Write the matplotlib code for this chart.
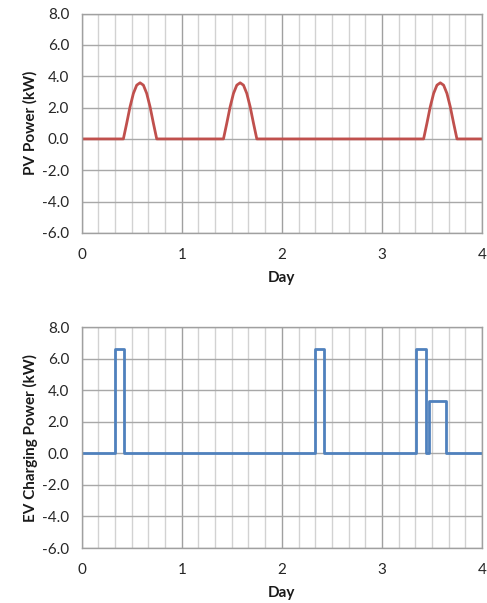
import matplotlib
matplotlib.use("Agg")
import matplotlib.pyplot as plt
import numpy as np
from matplotlib.ticker import MultipleLocator, FormatStrFormatter

plt.rcParams['font.family'] = ['Lato', 'DejaVu Sans']

# PV daily profile (hour of day, kW)
pv_profile_hours = [10, 10.8, 11.6, 12.4, 13.2, 14.0, 14.8, 15.6, 16.4, 17.2, 18.0]
pv_profile_kw = [0.0, 1.0, 2.05, 2.9, 3.43, 3.58, 3.43, 2.9, 2.05, 1.0, 0.0]
pv_sunny_days = [0, 1, 3]

# EV charging step changes (day, kW)
ev_t = [0, 0.333, 0.422, 2.333, 2.422, 3.336, 3.44, 3.475, 3.64, 4.0]
ev_kw = [0, 6.6, 0, 6.6, 0, 6.6, 0, 3.3, 0, 0]

y_ticks = [-6, -4, -2, 0, 2, 4, 6, 8]
x_ticks = [0, 1, 2, 3, 4]

# build PV series
pv_t = [0.0]
pv_v = [0.0]
for d in pv_sunny_days:
    for h, v in zip(pv_profile_hours, pv_profile_kw):
        pv_t.append(d + h / 24.0)
        pv_v.append(v)
pv_t.append(4.0)
pv_v.append(0.0)

fig = plt.figure(figsize=(4.87, 6.03), dpi=100)
ax1 = fig.add_axes([0.1677, 0.6136, 0.822, 0.364])
ax2 = fig.add_axes([0.1677, 0.0912, 0.822, 0.3665])

def style(ax, ylabel):
    ax.set_xlim(0, 4)
    ax.set_ylim(-6, 8)
    ax.set_xticks(x_ticks)
    ax.set_yticks(y_ticks)
    ax.xaxis.set_minor_locator(MultipleLocator(1 / 6))
    ax.yaxis.set_major_formatter(FormatStrFormatter('%.1f'))
    ax.grid(which='minor', axis='x', color='#d2d2d2', linewidth=1.0)
    ax.grid(which='major', axis='x', color='#a0a0a0', linewidth=1.0)
    ax.grid(which='major', axis='y', color='#a8a8a8', linewidth=1.0)
    ax.set_axisbelow(True)
    ax.tick_params(which='both', length=0, labelsize=11, colors='#262626')
    ax.tick_params(axis='y', pad=9)
    ax.tick_params(axis='x', pad=11)
    for s in ax.spines.values():
        s.set_color('#a0a0a0')
        s.set_linewidth(1.0)
    ax.set_ylabel(ylabel, fontsize=11, fontweight='bold', labelpad=3, color='#1a1a1a')
    ax.set_xlabel('Day', fontsize=11, fontweight='bold', labelpad=6, color='#1a1a1a')

ax1.plot(pv_t, pv_v, color='#C0504D', linewidth=2.0)
style(ax1, 'PV Power (kW)')

ax2.plot(ev_t, ev_kw, color='#4F81BD', linewidth=2.0, drawstyle='steps-post')
style(ax2, 'EV Charging Power (kW)')

fig.savefig('out.png', dpi=100)
